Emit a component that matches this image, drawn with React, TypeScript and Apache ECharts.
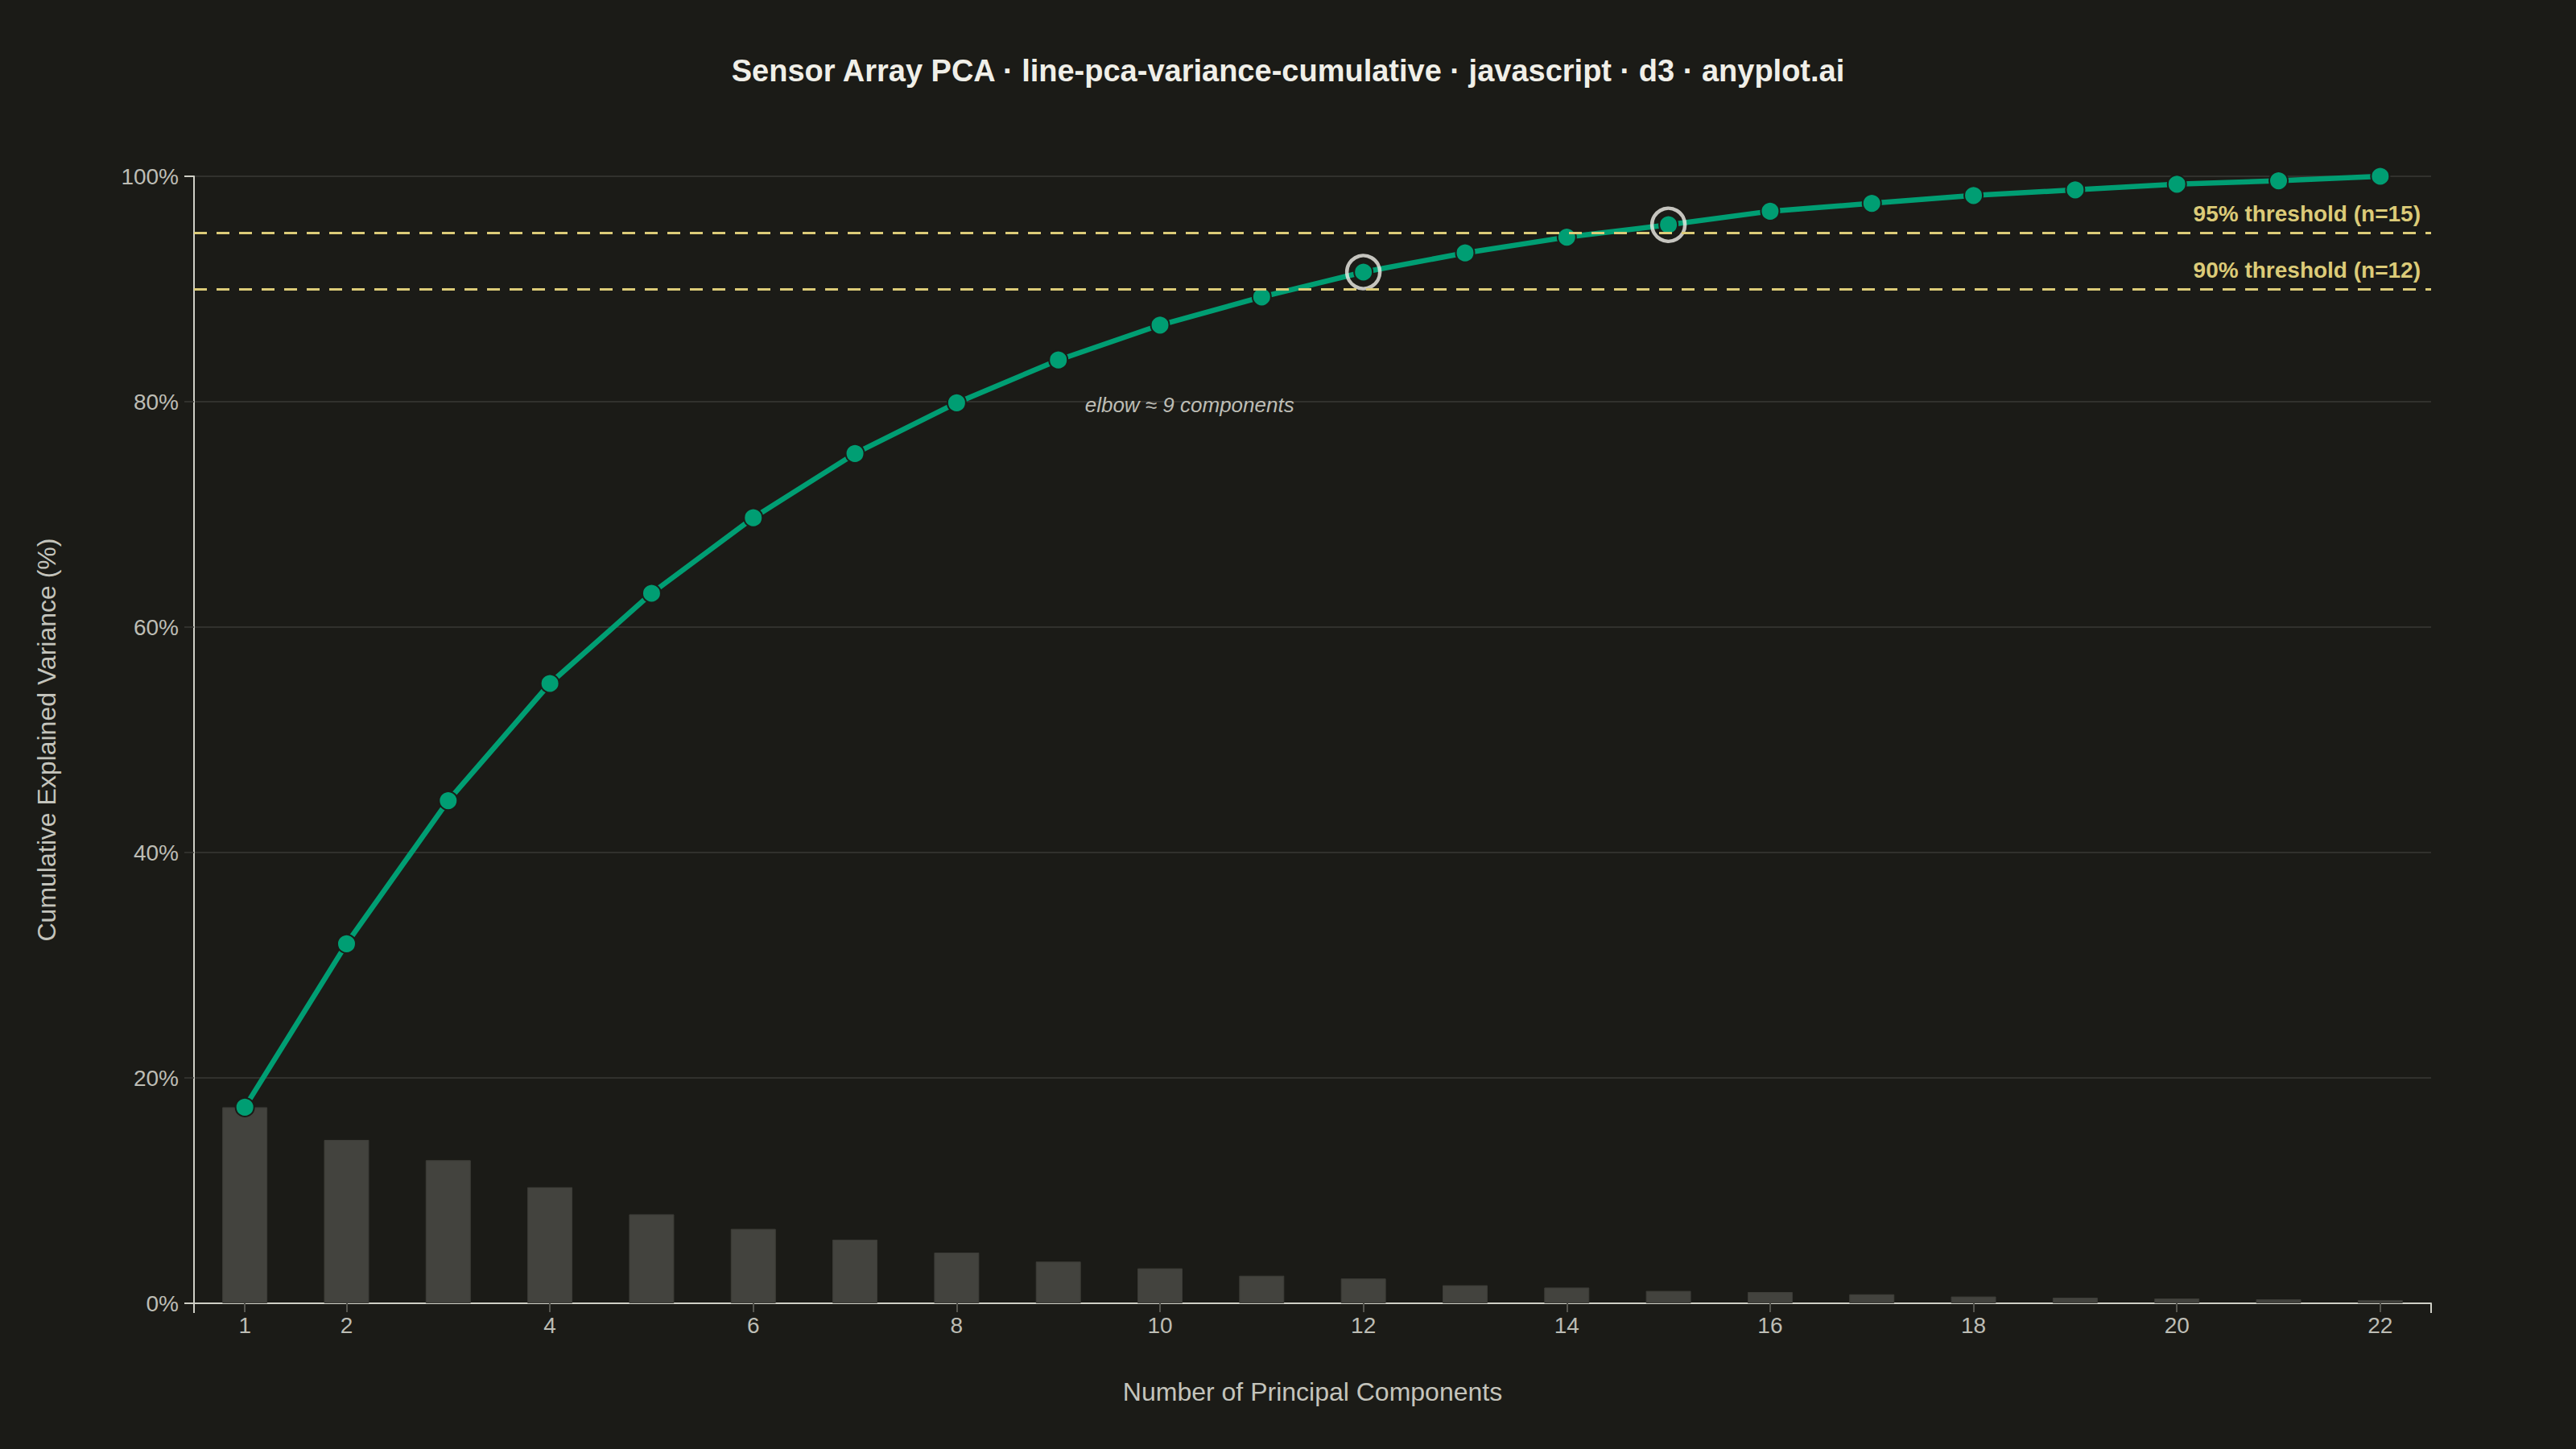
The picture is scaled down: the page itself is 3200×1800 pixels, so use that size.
import React, { useEffect, useRef } from "react";
import * as echarts from "echarts";

const components = [1, 2, 3, 4, 5, 6, 7, 8, 9, 10, 11, 12, 13, 14, 15, 16, 17, 18, 19, 20, 21, 22];
const individualVariance = [17.4, 14.5, 12.7, 10.3, 7.9, 6.6, 5.65, 4.5, 3.7, 3.1, 2.45, 2.2, 1.6, 1.4, 1.1, 1.0, 0.8, 0.6, 0.5, 0.43, 0.36, 0.29];
const cumulativeVariance = [17.4, 31.9, 44.6, 55.0, 63.0, 69.7, 75.4, 79.9, 83.7, 86.8, 89.3, 91.5, 93.2, 94.6, 95.7, 96.9, 97.6, 98.3, 98.8, 99.3, 99.6, 100.0];
const thresholds = [95, 90];
const xTickValues = [1, 2, 4, 6, 8, 10, 12, 14, 16, 18, 20, 22];
const elbowComponent = 9;

const TITLE = "Sensor Array PCA · line-pca-variance-cumulative · javascript · d3 · anyplot.ai";

const BG = "#1b1b17";
const GREEN = "#009e73";
const YELLOW = "#dccb78";
const LABEL = "#bdbdb5";
const NAME = "#c4c4bc";
const AXIS = "#cfcfc6";
const GRID = "#3a3a36";
const FONT = "'Liberation Sans', Arial, Helvetica, sans-serif";

export default function App() {
  const ref = useRef<HTMLDivElement>(null);

  useEffect(() => {
    if (!ref.current) return;
    const chart = echarts.init(ref.current, undefined, { renderer: "svg" });

    const nFor = (t: number) => cumulativeVariance.findIndex((v) => v >= t) + 1;
    const highlight = thresholds.map((t) => {
      const n = nFor(t);
      return [components[n - 1], cumulativeVariance[n - 1]];
    });

    const option: any = {
      animation: false,
      backgroundColor: BG,
      textStyle: { fontFamily: FONT },
      title: {
        text: TITLE,
        left: "center",
        top: 64,
        textStyle: { color: "#f0efe8", fontSize: 38, fontWeight: "bold", fontFamily: FONT },
      },
      grid: { left: 241, right: 180, top: 219, bottom: 181 },
      xAxis: [
        {
          type: "value",
          min: 0.5,
          max: 22.5,
          position: "bottom",
          name: "Number of Principal Components",
          nameLocation: "middle",
          nameGap: 94,
          nameTextStyle: { color: NAME, fontSize: 32, fontFamily: FONT },
          axisLine: { show: true, onZero: false, lineStyle: { color: AXIS, width: 2 } },
          axisTick: { show: true, customValues: xTickValues, length: 11, lineStyle: { color: "#55554f", width: 2 } },
          axisLabel: { customValues: xTickValues, color: LABEL, fontSize: 28, margin: 13, fontFamily: FONT },
          splitLine: { show: false },
        },
        {
          type: "value",
          min: 0.5,
          max: 22.5,
          position: "bottom",
          axisLine: { show: false },
          axisTick: { show: true, customValues: [0.5, 22.5], length: 12, lineStyle: { color: AXIS, width: 2 } },
          axisLabel: { show: false },
          splitLine: { show: false },
        },
      ],
      yAxis: [
        {
          type: "value",
          min: 0,
          max: 100,
          interval: 20,
          position: "left",
          name: "Cumulative Explained Variance (%)",
          nameLocation: "middle",
          nameGap: 167,
          nameRotate: 90,
          nameTextStyle: { color: NAME, fontSize: 32, fontFamily: FONT },
          axisLine: { show: true, lineStyle: { color: AXIS, width: 2 } },
          axisTick: { show: true, length: 12, lineStyle: { color: GRID, width: 1.5 } },
          axisLabel: { formatter: "{value}%", color: LABEL, fontSize: 28, margin: 19, fontFamily: FONT },
          splitLine: { show: true, lineStyle: { color: GRID, width: 1.5 } },
        },
        {
          type: "value",
          min: 0,
          max: 100,
          position: "left",
          axisLine: { show: false },
          axisTick: { show: true, customValues: [0, 100], length: 12, lineStyle: { color: AXIS, width: 2 } },
          axisLabel: { show: false },
          splitLine: { show: false },
        },
      ],
      series: [
        {
          type: "bar",
          xAxisIndex: 0,
          yAxisIndex: 0,
          data: individualVariance.map((v, i) => [components[i], v]),
          barWidth: 56,
          z: 1,
          itemStyle: { color: "#43433e", borderColor: "#3c3c37", borderWidth: 1 },
          markLine: {
            silent: true,
            symbol: ["none", "none"],
            lineStyle: { type: [16, 12], width: 3, color: YELLOW },
            label: {
              show: true,
              position: "insideEndTop",
              distance: [13, 10],
              color: YELLOW,
              fontSize: 28,
              fontWeight: "bold",
              fontFamily: FONT,
            },
            data: thresholds.map((t) => ({
              yAxis: t,
              label: { formatter: `${t}% threshold (n=${nFor(t)})` },
            })),
          },
        },
        {
          type: "line",
          xAxisIndex: 0,
          yAxisIndex: 0,
          data: cumulativeVariance.map((v, i) => [components[i], v]),
          z: 3,
          symbol: "circle",
          symbolSize: 23,
          lineStyle: { color: GREEN, width: 6.5 },
          itemStyle: { color: GREEN, borderColor: BG, borderWidth: 2 },
          markPoint: {
            silent: true,
            symbol: "circle",
            symbolSize: 1,
            itemStyle: { color: "rgba(0,0,0,0)" },
            label: {
              show: true,
              position: "inside",
              align: "left",
              verticalAlign: "middle",
              offset: [33, 56],
              color: LABEL,
              fontSize: 26,
              fontStyle: "italic",
              fontFamily: FONT,
              formatter: `elbow ≈ ${elbowComponent} components`,
            },
            data: [{ coord: [components[elbowComponent - 1], cumulativeVariance[elbowComponent - 1]] }],
          },
        },
        {
          type: "scatter",
          xAxisIndex: 0,
          yAxisIndex: 0,
          data: highlight,
          z: 4,
          symbol: "circle",
          symbolSize: 41,
          silent: true,
          itemStyle: { color: "rgba(0,0,0,0)", borderColor: "#f0efe8", borderWidth: 4.5 },
        },
      ],
    };

    chart.setOption(option);
    return () => chart.dispose();
  }, []);

  return (
    <div
      ref={ref}
      style={{ position: "fixed", left: 0, top: 0, width: 3200, height: 1800 }}
    />
  );
}
